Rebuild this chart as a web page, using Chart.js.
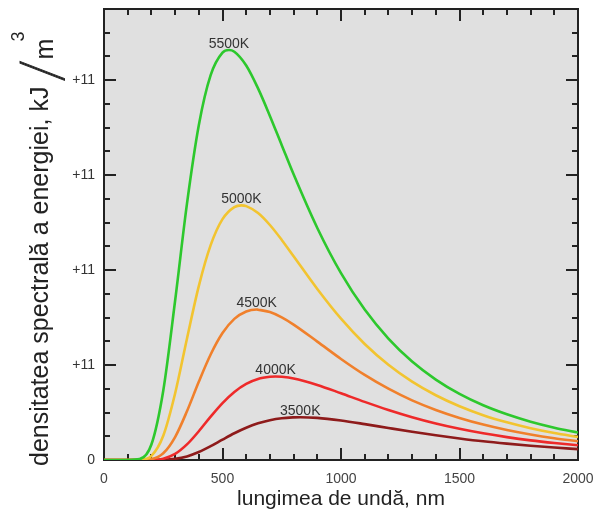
<!DOCTYPE html>
<html><head><meta charset="utf-8">
<script src="https://cdn.jsdelivr.net/npm/chart.js@4/dist/chart.umd.min.js"></script>
<style>html,body{margin:0;padding:0;background:#fff;}#wrap{width:606px;height:513px;}</style>
</head><body><div id="wrap"><canvas id="c" width="606" height="513"></canvas></div>
<script>
// ---- data ----
const wavelengths = [0, 100, 150, 200, 250, 300, 350, 400, 450, 500, 550, 600, 650, 700, 750, 800, 900, 1000, 1100, 1200, 1300, 1400, 1500, 1600, 1700, 1800, 1900, 2000];
const values5500 = [0, 0, 0.009, 0.163, 0.730, 1.677, 2.698, 3.526, 4.053, 4.290, 4.300, 4.155, 3.914, 3.624, 3.316, 3.009, 2.444, 1.968, 1.584, 1.279, 1.037, 0.847, 0.696, 0.576, 0.481, 0.403, 0.340, 0.289];
const values5000 = [0, 0, 0.002, 0.044, 0.256, 0.701, 1.278, 1.832, 2.263, 2.537, 2.664, 2.674, 2.601, 2.475, 2.318, 2.146, 1.801, 1.488, 1.222, 1.003, 0.825, 0.682, 0.566, 0.472, 0.397, 0.335, 0.284, 0.243];
const values4500 = [0, 0, 0, 0.009, 0.071, 0.242, 0.513, 0.824, 1.111, 1.337, 1.486, 1.564, 1.583, 1.558, 1.502, 1.426, 1.247, 1.064, 0.896, 0.751, 0.628, 0.527, 0.443, 0.373, 0.316, 0.269, 0.230, 0.198];
const values4000 = [0, 0, 0, 0.001, 0.014, 0.064, 0.164, 0.303, 0.457, 0.600, 0.717, 0.802, 0.853, 0.876, 0.876, 0.859, 0.791, 0.703, 0.612, 0.527, 0.451, 0.385, 0.329, 0.281, 0.241, 0.207, 0.179, 0.155];
const values3500 = [0, 0, 0, 0, 0.002, 0.012, 0.038, 0.084, 0.146, 0.215, 0.282, 0.340, 0.386, 0.419, 0.440, 0.449, 0.444, 0.416, 0.378, 0.337, 0.297, 0.260, 0.227, 0.197, 0.172, 0.150, 0.131, 0.115];
const seriesNames = ['5500K', '5000K', '4500K', '4000K', '3500K'];
const peakWavelengths = [527, 580, 644, 724, 828];
const peakValues = [4.318, 2.682, 1.585, 0.880, 0.451];
const xTickValues = [0, 500, 1000, 1500, 2000];
const xTickLabels = ['0', '500', '1000', '1500', '2000'];
const yTickValues = [0, 1, 2, 3, 4];
const yTickLabels = ['0', '+11', '+11', '+11', '+11'];
const xAxisTitle = 'lungimea de undă, nm';
const yTitleMain = 'densitatea spectrală a energiei, kJ';
const yTitleSlash = '/';
const yTitleUnit = 'm';
const yTitleExp = '3';

// ---- styling ----
const seriesValues = [values5500, values5000, values4500, values4000, values3500];
const colors = ['#2dc82d', '#f2c430', '#f0802c', '#ee2a2a', '#8e1b1b'];
const FONT = '"Liberation Sans", Arial, sans-serif';

function buildSeries(vals, i) {
  const pts = wavelengths.map((w, k) => ({x: w, y: vals[k]}));
  pts.push({x: peakWavelengths[i], y: peakValues[i]});
  pts.sort((a, b) => a.x - b.x);
  return pts;
}

const datasets = seriesValues.map((vals, i) => ({
  label: seriesNames[i],
  data: buildSeries(vals, i),
  borderColor: colors[i],
  backgroundColor: colors[i],
  borderWidth: 2.6,
  pointRadius: 0,
  fill: false,
  cubicInterpolationMode: 'monotone'
}));

const framePlugin = {
  id: 'frame',
  beforeDatasetsDraw(chart) {
    const {ctx, chartArea: a, scales: {x, y}} = chart;
    ctx.save();
    ctx.fillStyle = '#e0e0e0';
    ctx.fillRect(a.left, a.top, a.right - a.left, a.bottom - a.top);
    ctx.strokeStyle = '#222';
    ctx.lineWidth = 2;
    ctx.beginPath();
    for (let v = 0; v <= 2000; v += 100) {
      const px = Math.round(x.getPixelForValue(v));
      const L = (v % 500 === 0) ? 12 : 6;
      ctx.moveTo(px, a.bottom); ctx.lineTo(px, a.bottom - L);
      ctx.moveTo(px, a.top); ctx.lineTo(px, a.top + L);
    }
    for (let k = 0; k <= 19; k++) {
      const v = k * 0.25;
      const py = Math.round(y.getPixelForValue(v));
      const L = (k % 4 === 0) ? 12 : 6;
      ctx.moveTo(a.left, py); ctx.lineTo(a.left + L, py);
      ctx.moveTo(a.right, py); ctx.lineTo(a.right - L, py);
    }
    ctx.stroke();
    ctx.strokeRect(a.left, a.top, a.right - a.left, a.bottom - a.top);
    ctx.restore();
  },
  afterDatasetsDraw(chart) {
    const {ctx, scales: {x, y}} = chart;
    ctx.save();
    ctx.fillStyle = '#333';
    ctx.font = '14px ' + FONT;
    ctx.textAlign = 'center';
    ctx.textBaseline = 'alphabetic';
    seriesNames.forEach((n, i) => {
      ctx.fillText(n, x.getPixelForValue(peakWavelengths[i]), y.getPixelForValue(peakValues[i]) - 2.5);
    });
    ctx.restore();
  },
  afterDraw(chart) {
    const ctx = chart.ctx;
    ctx.save();
    ctx.translate(48, 466);
    ctx.rotate(-Math.PI / 2);
    ctx.fillStyle = '#222';
    ctx.strokeStyle = '#222';
    ctx.textAlign = 'left';
    ctx.textBaseline = 'alphabetic';
    ctx.font = '25px ' + FONT;
    ctx.fillText(yTitleMain, 0, 0);
    const w = ctx.measureText(yTitleMain).width;
    ctx.font = '100 58px Roboto, Inter, ' + FONT;
    ctx.lineWidth = 0.9;
    ctx.fillText(yTitleSlash, w + 5, 13);
    ctx.strokeText(yTitleSlash, w + 5, 13);
    ctx.font = '25px ' + FONT;
    ctx.fillText(yTitleUnit, w + 27, 5);
    ctx.font = '18px ' + FONT;
    ctx.fillText(yTitleExp, w + 45, -24);
    ctx.restore();
  }
};

new Chart(document.getElementById('c'), {
  type: 'line',
  data: {datasets},
  options: {
    responsive: false,
    devicePixelRatio: 1,
    animation: false,
    layout: {autoPadding: false, padding: {top: 9, right: 28, left: 0, bottom: 0}},
    plugins: {legend: {display: false}, tooltip: {enabled: false}},
    scales: {
      x: {
        type: 'linear', min: 0, max: 2000,
        grid: {display: false, drawTicks: false},
        border: {display: false},
        afterBuildTicks: s => { s.ticks = xTickValues.map(v => ({value: v})); },
        ticks: {
          autoSkip: false, maxRotation: 0, padding: 11,
          color: '#444', font: {size: 14, family: FONT},
          callback: (v, i) => xTickLabels[i]
        },
        title: {display: true, text: xAxisTitle, color: '#222', font: {size: 21, family: FONT}, padding: {top: 0, bottom: 1}},
        afterFit: s => { s.height = 53; s.paddingLeft = 0; s.paddingRight = 0; }
      },
      y: {
        type: 'linear', min: 0, max: 4.75,
        grid: {display: false, drawTicks: false},
        border: {display: false},
        afterBuildTicks: s => { s.ticks = yTickValues.map(v => ({value: v})); },
        ticks: {
          autoSkip: false, padding: 9,
          color: '#333', font: {size: 14, family: FONT, lineHeight: 1},
          callback: (v, i) => yTickLabels[i]
        },
        afterFit: s => { s.width = 104; s.paddingTop = 0; s.paddingBottom = 0; }
      }
    }
  },
  plugins: [framePlugin]
});
</script>
</body></html>
